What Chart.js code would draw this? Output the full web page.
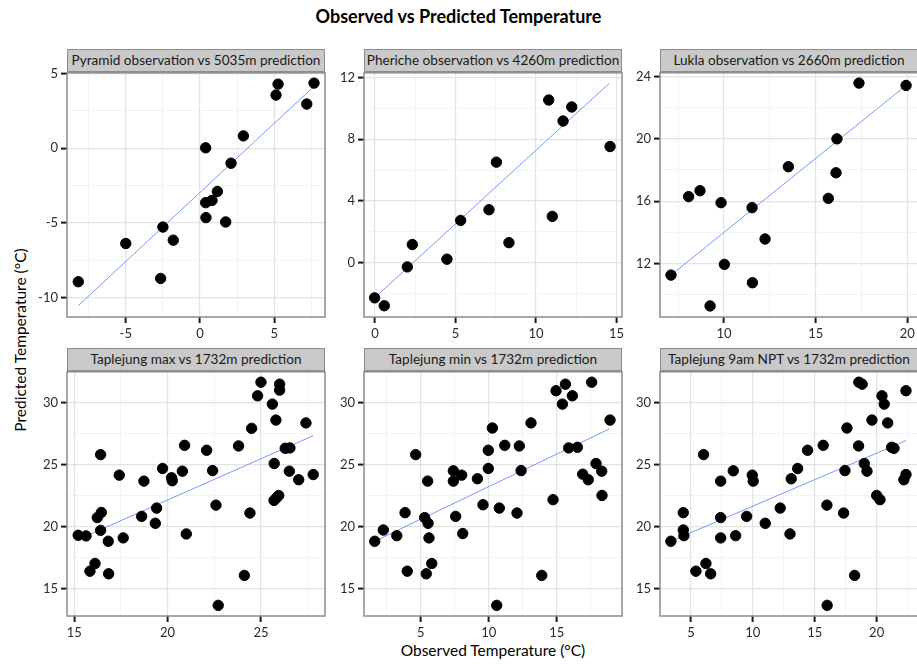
<!DOCTYPE html>
<html>
<head>
<meta charset="utf-8">
<script src="https://cdn.jsdelivr.net/npm/chart.js@4.4.0/dist/chart.umd.min.js"></script>
<style>
  body { margin: 0; background: #fff; width: 917px; height: 664px; overflow: hidden; position: relative; font-family: Lato, "Liberation Sans", sans-serif; }
  .panel { position: absolute; }
  .strip { position: absolute; box-sizing: border-box; background: #c9c9c9; border: 1.5px solid #8c8c8c;
           color: #1a1a1a; font-size: 13.6px; text-align: center; line-height: 20px; white-space: nowrap; overflow: hidden; }
  #title { position: absolute; left: 0; width: 917px; top: 5px; text-align: center; font-weight: bold; font-size: 18px; color: #000; }
  #xlabel { position: absolute; left: 364px; width: 258px; top: 641px; text-align: center; font-size: 15.5px; color: #000; }
  #ylabel { position: absolute; left: 20px; top: 340px; transform: translate(-50%, -50%) rotate(-90deg); font-size: 15.5px; color: #000; white-space: nowrap; }
</style>
</head>
<body>
<div id="title">Observed vs Predicted Temperature</div>
<div id="xlabel">Observed Temperature (°C)</div>
<div id="ylabel">Predicted Temperature (°C)</div>

<script>
// strip titles
const stripTitles = [
    "Pyramid observation vs 5035m prediction",
    "Pheriche observation vs 4260m prediction",
    "Lukla observation vs 2660m prediction",
    "Taplejung max vs 1732m prediction",
    "Taplejung min vs 1732m prediction",
    "Taplejung 9am NPT vs 1732m prediction"
];

// observed (x) / predicted (y) values
const pyramidObs  = [-8.2, -5.0, -2.5, -2.65, -1.8, 0.38, 0.38, 0.4, 0.81, 1.17, 1.73, 2.09, 2.92, 5.12, 5.26, 7.19, 7.68];
const pyramidPred = [-8.93, -6.37, -5.27, -8.71, -6.15, 0.03, -3.64, -4.64, -3.49, -2.89, -4.93, -1.0, 0.83, 3.56, 4.29, 2.96, 4.36];

const phericheObs  = [-0.02, 0.58, 2.01, 2.32, 4.47, 5.32, 7.08, 7.54, 8.32, 10.79, 11.01, 11.68, 12.22, 14.6];
const pherichePred = [-2.26, -2.77, -0.26, 1.19, 0.24, 2.75, 3.44, 6.52, 1.31, 10.54, 3.01, 9.18, 10.09, 7.53];

const luklaObs  = [7.11, 8.07, 8.69, 9.24, 9.84, 10.02, 11.53, 11.55, 12.24, 13.51, 15.69, 16.11, 16.16, 17.36, 19.93];
const luklaPred = [11.25, 16.29, 16.67, 9.27, 15.9, 11.94, 15.58, 10.76, 13.57, 18.21, 16.18, 17.82, 20.0, 23.58, 23.43];

const tapMaxObs  = [15.21, 15.63, 15.84, 16.11, 16.23, 16.45, 16.41, 16.41, 16.82, 16.84, 17.41, 17.62, 18.61, 18.73, 19.34, 19.41,
                    19.73, 20.21, 20.25, 20.79, 20.91, 21.0, 22.09, 22.41, 22.59, 22.71, 23.8, 24.11, 24.41, 24.5, 24.82, 25.0,
                    25.61, 25.71, 25.8, 25.7, 25.84, 25.95, 26.0, 26.0, 26.3, 26.55, 26.52, 27.02, 27.41, 27.8];
const tapMaxPred = [19.29, 19.24, 16.39, 17.01, 20.72, 21.14, 19.69, 25.81, 18.81, 16.18, 24.15, 19.08, 20.82, 23.67, 20.26, 21.49,
                    24.69, 23.94, 23.7, 24.47, 26.56, 19.4, 26.16, 24.52, 21.73, 13.63, 26.51, 16.05, 21.09, 27.93, 30.56, 31.66,
                    29.89, 25.09, 28.6, 22.11, 22.33, 22.51, 31.5, 31.02, 26.32, 26.35, 24.47, 23.78, 28.37, 24.2];

const tapMinObs  = [1.62, 2.25, 3.24, 3.85, 4.01, 4.63, 5.29, 5.41, 5.51, 5.54, 5.61, 5.81, 7.4, 7.4, 7.57, 8.01, 8.09, 9.17, 9.58,
                    9.97, 9.97, 10.27, 10.59, 10.78, 11.18, 12.08, 12.25, 12.38, 13.11, 13.9, 14.73, 14.95, 15.42, 15.64,
                    15.88, 16.15, 16.52, 16.91, 17.32, 17.57, 17.89, 18.31, 18.33, 18.92];
const tapMinPred = [18.81, 19.72, 19.26, 21.12, 16.39, 25.81, 20.72, 16.18, 23.67, 20.26, 19.08, 17.01, 24.5, 23.67, 20.82, 24.15,
                    19.43, 23.86, 21.76, 26.16, 24.69, 27.96, 13.63, 21.49, 26.56, 21.09, 26.51, 24.52, 28.37, 16.05, 22.17,
                    30.97, 29.89, 31.5, 26.35, 30.56, 26.4, 24.23, 23.78, 31.66, 25.09, 24.47, 22.51, 28.6];

const tap9amObs  = [3.38, 4.38, 4.38, 4.43, 5.4, 6.02, 6.21, 6.59, 7.4, 7.4, 7.4, 8.42, 8.61, 9.5, 9.95, 10.03, 11.0, 12.21, 13.0,
                    13.1, 13.62, 14.42, 15.68, 15.98, 16.0, 17.33, 17.44, 17.6, 18.22, 18.54, 18.56, 18.83, 19.0, 19.22,
                    19.62, 20.0, 20.27, 20.43, 20.61, 20.89, 21.21, 21.4, 22.2, 22.37, 22.37];
const tap9amPred = [18.81, 21.12, 19.72, 19.26, 16.39, 25.81, 17.01, 16.18, 23.67, 20.72, 19.08, 24.5, 19.26, 20.82, 24.15, 23.67,
                    20.26, 21.49, 19.4, 23.86, 24.69, 26.16, 26.56, 21.73, 13.63, 21.09, 24.52, 27.96, 16.05, 26.51, 31.66,
                    31.5, 25.09, 24.47, 28.6, 22.51, 22.17, 30.56, 29.89, 28.37, 26.4, 26.32, 23.78, 24.2, 30.97];

// fitted line end points (x0, x1) and (y0, y1)
const fitX = [[-8.2, 7.6], [-0.02, 14.57], [7.11, 19.93], [15.21, 27.8], [1.62, 18.86], [3.38, 22.37]];
const fitY = [[-10.53, 4.07], [-2.26, 11.64], [11.25, 23.43], [18.95, 27.34], [18.81, 27.88], [18.81, 26.94]];

// axis limits and tick labels
const xLimits = [[-8.96, 8.42], [-0.68, 15.34], [6.51, 20.58], [14.61, 28.43], [0.83, 19.8], [2.5, 23.34]];
const yLimits = [[-11.29, 5.05], [-3.5, 12.3], [8.56, 24.24], [12.77, 32.5], [12.77, 32.5], [12.77, 32.5]];
const xTicks = [[-5, 0, 5], [0, 5, 10, 15], [10, 15, 20], [15, 20, 25], [5, 10, 15], [5, 10, 15, 20]];
const yTicks = [[-10, -5, 0, 5], [0, 4, 8, 12], [12, 16, 20, 24], [15, 20, 25, 30], [15, 20, 25, 30], [15, 20, 25, 30]];

const obsSeries = [pyramidObs, phericheObs, luklaObs, tapMaxObs, tapMinObs, tap9amObs];
const predSeries = [pyramidPred, pherichePred, luklaPred, tapMaxPred, tapMinPred, tap9amPred];

// layout of the plot areas (pixels)
const colLeft = [67, 364, 660];
const rowTop = [72, 371];
const plotW = 258, plotH = 245;
const yAxisW = 45, xAxisH = 30, padTop = 10, padRight = 10;

const boxPlugin = {
    id: 'box',
    afterDraw(chart) {
        const a = chart.chartArea;
        const ctx = chart.ctx;
        ctx.save();
        ctx.strokeStyle = '#8c8c8c';
        ctx.lineWidth = 1.5;
        ctx.strokeRect(a.left, a.top, a.right - a.left, a.bottom - a.top);
        ctx.restore();
    }
};

// major ticks plus minor ones half way between
function withMinor(major, lim) {
    let step = major[1] - major[0];
    let all = [];
    for (let i = -1; i < major.length; i++) {
        let m = major[0] + step * (i + 0.5);
        if (i >= 0) all.push(major[i]);
        if (m > lim[0] && m < lim[1]) all.push(m);
    }
    return all;
}

function axisOptions(major, lim, isX) {
    let all = withMinor(major, lim);
    return {
        type: 'linear',
        min: lim[0],
        max: lim[1],
        afterBuildTicks: (scale) => { scale.ticks = all.map(v => ({ value: v })); },
        afterFit: (scale) => {
            if (isX) scale.height = xAxisH; else scale.width = yAxisW;
        },
        border: { display: false },
        grid: {
            color: (c) => major.includes(c.tick.value) ? '#e3e3e3' : '#f1f1f1',
            lineWidth: (c) => major.includes(c.tick.value) ? 1.2 : 0.8,
            tickColor: (c) => major.includes(c.tick.value) ? '#1a1a1a' : 'rgba(0,0,0,0)',
            tickWidth: 2,
            tickLength: 6
        },
        ticks: {
            autoSkip: false,
            maxRotation: 0,
            padding: 3,
            color: '#2b2b2b',
            font: { family: 'Lato, "Liberation Sans", sans-serif', size: 13 },
            callback: (v) => major.includes(v) ? String(v) : ''
        }
    };
}

for (let i = 0; i < 6; i++) {
    let left = colLeft[i % 3], top = rowTop[Math.floor(i / 3)];

    let strip = document.createElement('div');
    strip.className = 'strip';
    strip.style.left = left + 'px';
    strip.style.width = plotW + 'px';
    strip.style.top = (top - 23) + 'px';
    strip.style.height = '23px';
    strip.textContent = stripTitles[i];

    let wrap = document.createElement('div');
    wrap.className = 'panel';
    wrap.style.left = (left - yAxisW) + 'px';
    wrap.style.top = (top - padTop) + 'px';
    wrap.style.width = (plotW + yAxisW + padRight) + 'px';
    wrap.style.height = (plotH + padTop + xAxisH) + 'px';
    let canvas = document.createElement('canvas');
    wrap.appendChild(canvas);
    document.body.appendChild(wrap);
    document.body.appendChild(strip);

    let pts = obsSeries[i].map((x, k) => ({ x: x, y: predSeries[i][k] }));
    let fit = fitX[i].map((x, k) => ({ x: x, y: fitY[i][k] }));

    new Chart(canvas, {
        type: 'scatter',
        data: {
            datasets: [
                { data: fit, type: 'line', borderColor: 'rgba(70,120,255,0.75)', borderWidth: 1, pointRadius: 0, fill: false, order: 1 },
                { data: pts, backgroundColor: '#000', borderColor: '#000', pointRadius: 5.2, pointHoverRadius: 5.2, order: 0 }
            ]
        },
        options: {
            responsive: true,
            maintainAspectRatio: false,
            animation: false,
            layout: { padding: { top: padTop, right: padRight, left: 0, bottom: 0 } },
            plugins: { legend: { display: false }, tooltip: { enabled: false } },
            scales: {
                x: axisOptions(xTicks[i], xLimits[i], true),
                y: axisOptions(yTicks[i], yLimits[i], false)
            }
        },
        plugins: [boxPlugin]
    });
}
</script>
</body>
</html>
